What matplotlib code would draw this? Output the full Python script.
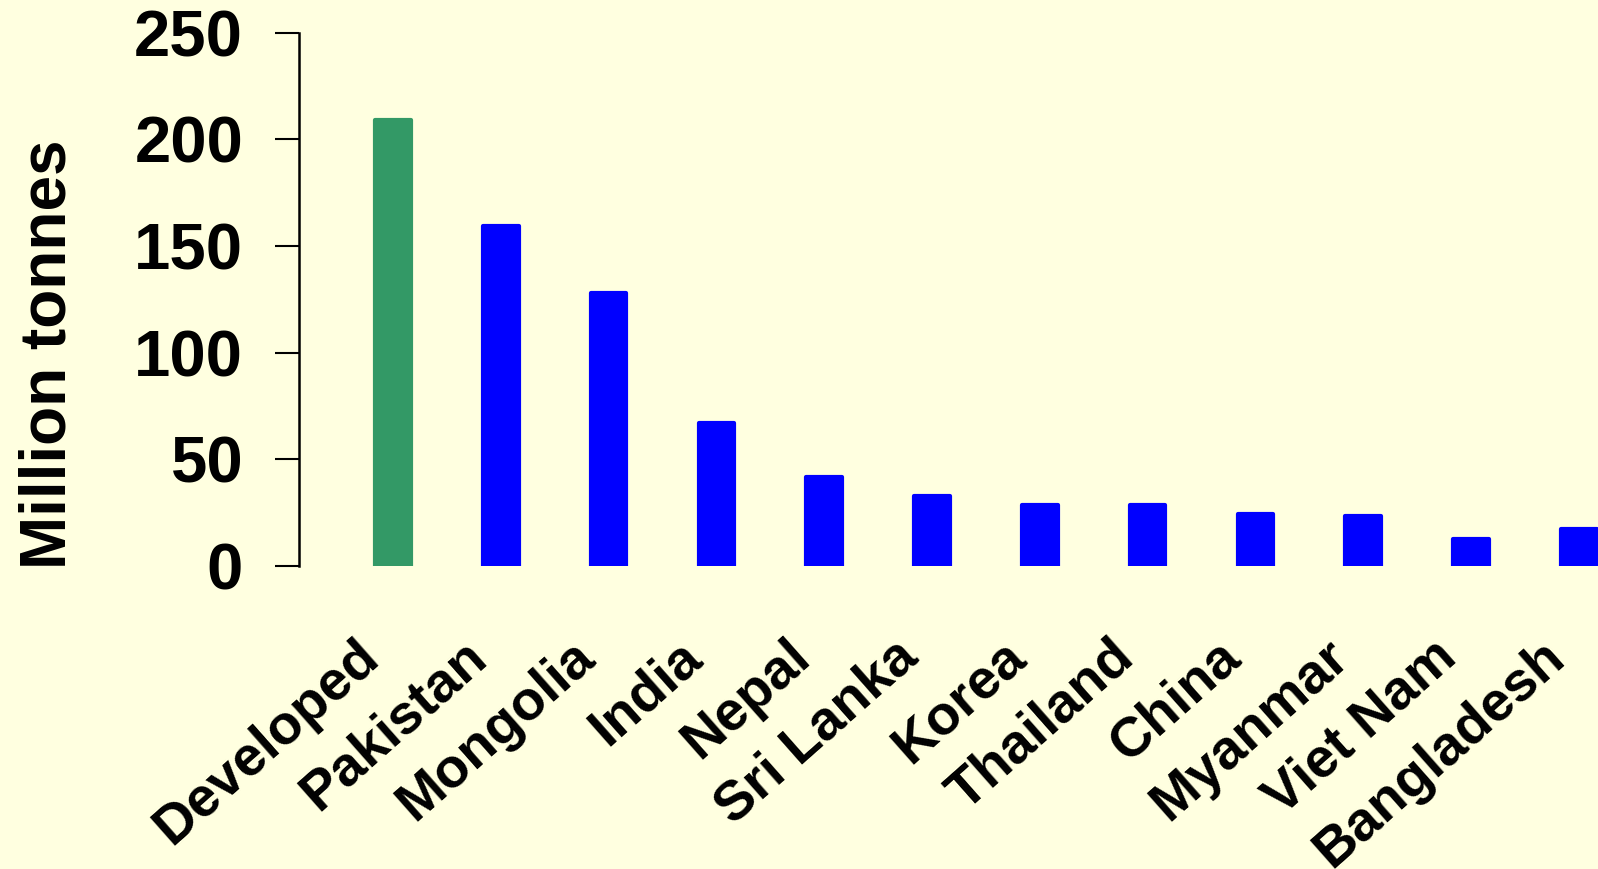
import numpy as np
import matplotlib
matplotlib.use("Agg")
import matplotlib.pyplot as plt
import matplotlib.transforms as mtransforms

# data
countries = ["Developed", "Pakistan", "Mongolia", "India", "Nepal", "Sri Lanka",
             "Korea", "Thailand", "China", "Myanmar", "Viet Nam", "Bangladesh"]
values = [209, 159.5, 128, 67, 41.5, 33, 28.5, 28.5, 24.5, 23.5, 12.5, 17.5]
colours = ["#339966"] + ["#0000FF"] * 11
yticks = [0, 50, 100, 150, 200, 250]

plt.rcParams['font.family'] = ['Liberation Sans', 'DejaVu Sans']
plt.rcParams['font.weight'] = 'bold'

bg = "#FFFFE0"
fig = plt.figure(figsize=(15.98, 8.69), dpi=100, facecolor=bg)
ax = fig.add_axes([0.1869, 0.3487, 1 - 0.1869, 0.9625 - 0.3487], facecolor=bg)

x = np.arange(len(countries))
# thick edge with round joins gives the slightly rounded corners
ax.bar(x, values, width=0.33, color=colours, edgecolor=colours,
       linewidth=3, joinstyle='round')

ax.set_xlim(-0.875, 11.178)
ax.set_ylim(0, 250)
ax.set_yticks(yticks)
ax.set_yticklabels([str(v) for v in yticks], fontsize=47, fontweight='bold')

for s in ['top', 'right', 'bottom']:
    ax.spines[s].set_visible(False)
ax.spines['left'].set_linewidth(1.8)
ax.tick_params(axis='y', length=17, width=1.5, pad=23)

ax.set_xticks(x)
ax.set_xticklabels(countries, fontsize=40, fontweight='bold', rotation=41.5,
                   ha='right', va='baseline', rotation_mode='anchor')
ax.tick_params(axis='x', length=0, pad=68)
shift = mtransforms.ScaledTranslation(-12 / 100, 0, fig.dpi_scale_trans)
for lab in ax.get_xticklabels():
    lab.set_transform(lab.get_transform() + shift)

fig.text(49 / 1598, 1 - 354 / 869, "Million tonnes", rotation=90,
         ha='center', va='center', fontsize=46, fontweight='bold')

fig.savefig("out.png", dpi=100, facecolor=bg)
